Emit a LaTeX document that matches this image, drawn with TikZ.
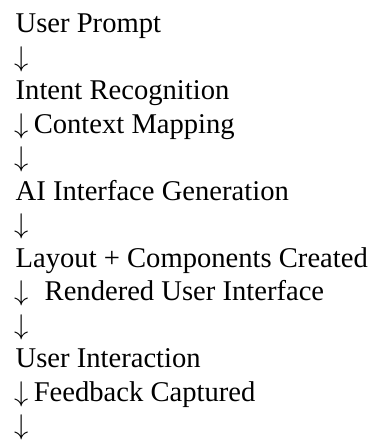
\documentclass[tikz,border=0pt]{standalone}
\usepackage{fontspec}
\setmainfont{Liberation Serif}
\usepackage{tikz}
\tikzset{
    x=1pt, y=1pt,
    every flowline/.style={ % Sets the properties for each line of text
        inner sep=0pt,
        anchor=base west,
        font=\fontsize{28.6}{33.5}\selectfont
    }
}
\newcommand{\dn}{\resizebox{!}{19.8pt}{$\downarrow$}}

\begin{document}
\begin{tikzpicture}
            \useasboundingbox (0,0) rectangle (373,441);
            \node[every flowline] (prompt) at (15.5,408) {User Prompt};
            \node[every flowline] (a1) at (14.5,374.5) {\dn};
            \node[every flowline] (intent) at (15.5,341) {Intent Recognition};
            \node[every flowline] (context) at (14.5,307.5) {\dn\hspace{0.17em}Context Mapping};
            \node[every flowline] (a2) at (14.5,274) {\dn};
            \node[every flowline] (gen) at (15.5,240.5) {AI Interface Generation};
            \node[every flowline] (a3) at (14.5,207) {\dn};
            \node[every flowline] (layout) at (15.5,173.5) {Layout + Components Created};
            \node[every flowline] (render) at (14.5,140) {\dn\hspace{0.55em}Rendered User Interface};
            \node[every flowline] (a4) at (14.5,106.5) {\dn};
            \node[every flowline] (interact) at (15.5,73) {User Interaction};
            \node[every flowline] (feedback) at (14.5,39.5) {\dn\hspace{0.17em}Feedback Captured};
            \node[every flowline] (a5) at (14.5,6) {\dn};

        \end{tikzpicture}
\end{document}
